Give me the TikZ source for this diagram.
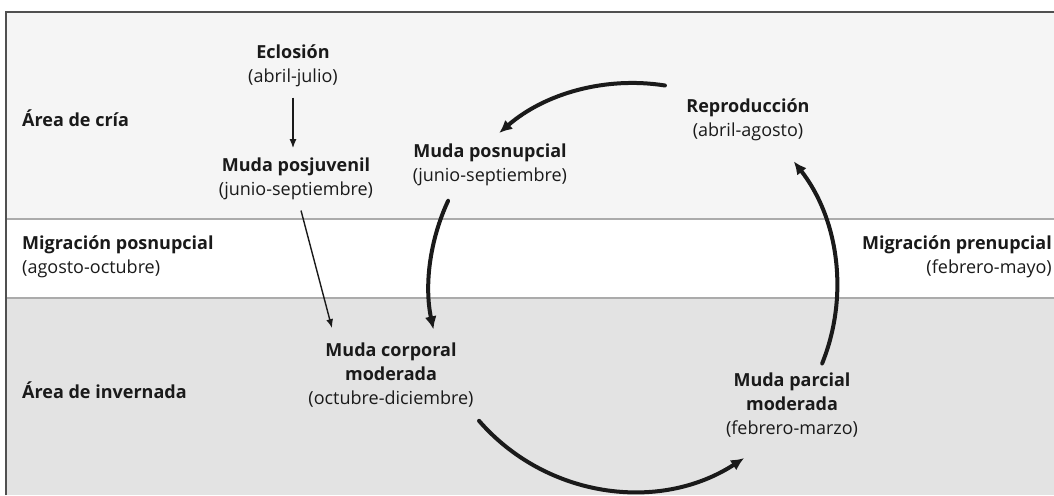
\documentclass[tikz,border=0pt]{standalone}
\usepackage{fontspec}
\setmainfont{Open Sans}
\usepackage{tikz}
\usetikzlibrary{positioning,arrows.meta}

\definecolor{criagris}{HTML}{F5F5F5}
\definecolor{invgris}{HTML}{E3E3E3}
\definecolor{raya}{HTML}{ABABAB}
\definecolor{marco}{HTML}{505050}
\definecolor{tinta}{HTML}{1A1A1A}

\begin{document}
\begin{tikzpicture}[x=1pt, y=1pt,
  etapa/.style={align=center, inner sep=0pt, anchor=base, text=tinta,
    font=\fontsize{18}{24}\selectfont},
  zona/.style={align=left, inner sep=0pt, anchor=base west, text=tinta,
    font=\fontsize{18}{24}\selectfont},
  zonader/.style={zona, align=right, anchor=base east},
  fina/.style={-{Latex[length=9pt,width=7pt]}, line width=1.4pt, tinta},
  gruesa/.style={-{Latex[length=13pt,width=12pt]}, line width=4pt, line cap=round, tinta}]

\useasboundingbox (0,0) rectangle (1054,495);

% bands
\fill[criagris] (6,276) rectangle (1054,483);
\fill[invgris] (6,0) rectangle (1054,197);
\draw[raya, line width=1.2pt] (6,276) -- (1054,276);
\draw[raya, line width=1.2pt] (6,197) -- (1054,197);
\draw[marco, line width=1.2pt] (6,0) -- (6,483) -- (1054,483);

% zones (base = last line)
\node[zona] (cria) at (22,368) {\textbf{Área de cría}};
\node[zona] (migpos) at (22,221) {\textbf{Migración posnupcial}\\(agosto-octubre)};
\node[zonader] (migpre) at (1052,221) {\textbf{Migración prenupcial}\\(febrero-mayo)};
\node[zona] (invernada) at (22,96) {\textbf{Área de invernada}};

% stages
\node[etapa] (eclosion) at (293,412) {\textbf{Eclosión}\\(abril-julio)};
\node[etapa] (posjuv) at (296,299) {\textbf{Muda posjuvenil}\\(junio-septiembre)};
\node[etapa] (posnup) at (490,313) {\textbf{Muda posnupcial}\\(junio-septiembre)};
\node[etapa] (reprod) at (748,358) {\textbf{Reproducción}\\(abril-agosto)};
\node[etapa] (corporal) at (391,90) {\textbf{Muda corporal}\\\textbf{moderada}\\(octubre-diciembre)};
\node[etapa] (parcial) at (792,60) {\textbf{Muda parcial}\\\textbf{moderada}\\(febrero-marzo)};

% juvenile path
\draw[fina] ([yshift=-10pt]eclosion.south) -- ([yshift=10pt]eclosion.south |- posjuv.north);
\draw[fina] ([xshift=5pt,yshift=-10pt]posjuv.south) -- ([xshift=-59pt,yshift=15pt]corporal.north);

% adult cycle
\coordinate (ciclo) at (633,208);
\draw[gruesa] ([shift={(155:204)}]ciclo) arc[start angle=155, end angle=192, radius=204];
\draw[gruesa] ([shift={(221:204)}]ciclo) arc[start angle=221, end angle=303, radius=204];
\draw[gruesa] ([shift={(-22:204)}]ciclo) arc[start angle=-22, end angle=38, radius=204];
\draw[gruesa] ([shift={(81:204)}]ciclo) arc[start angle=81, end angle=131, radius=204];

\end{tikzpicture}
\end{document}
